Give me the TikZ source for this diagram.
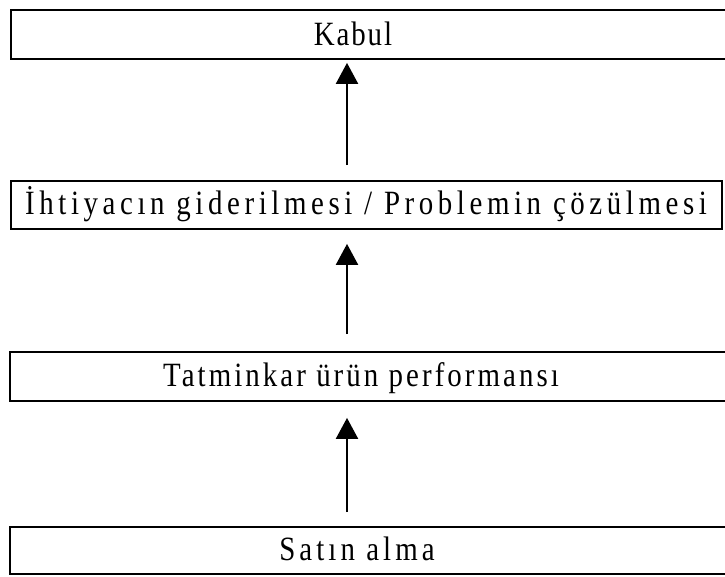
\documentclass[tikz,border=0pt]{standalone}
\usepackage{fontspec}
\setmainfont[FakeStretch=0.85]{Liberation Serif}
\usetikzlibrary{arrows.meta}
\newcommand{\tracked}[2]{{\addfontfeature{LetterSpace=#1}#2}}
\begin{document}
\begin{tikzpicture}[x=1pt,y=-1pt,
  stagebox/.style={draw,line width=1.8pt,inner sep=0pt},
  stagetext/.style={anchor=base,inner sep=0pt,font=\fontsize{34}{40}\selectfont},
  uparrow/.style={line width=2.2pt,-{Triangle[length=21pt,width=22pt]}}]
\useasboundingbox (0,0) rectangle (725,576);
\clip (0,0) rectangle (725,576);
% stage boxes (top to bottom)
\node[stagebox,minimum width=722pt,minimum height=49pt] (b1) at (372,34.5) {};
\node[stagebox,minimum width=711pt,minimum height=48pt] (b2) at (366.5,205) {};
\node[stagebox,minimum width=722pt,minimum height=49pt] (b3) at (371,376.5) {};
\node[stagebox,minimum width=722pt,minimum height=47pt] (b4) at (371,550.5) {};
% stage labels
\node[stagetext] (t1) at (353,45) {\tracked{5.5}{Kabul}};
\node[stagetext] (t2) at (366,214) {\tracked{13.5}{İhtiyacın giderilmesi / Problemin çözülmesi}};
\node[stagetext] (t3) at (361,386) {\tracked{9}{Tatminkar ürün performansı}};
\node[stagetext] (t4) at (357,560) {\tracked{12}{Satın alma}};
% connectors
\coordinate (ax) at (347,0);
\draw[uparrow,shorten <=15pt,shorten >=3pt] (b2.north -| ax) -- (b1.south -| ax);
\draw[uparrow,shorten <=17pt,shorten >=14pt] (b3.north -| ax) -- (b2.south -| ax);
\draw[uparrow,shorten <=14pt,shorten >=16pt] (b4.north -| ax) -- (b3.south -| ax);
\end{tikzpicture}
\end{document}
